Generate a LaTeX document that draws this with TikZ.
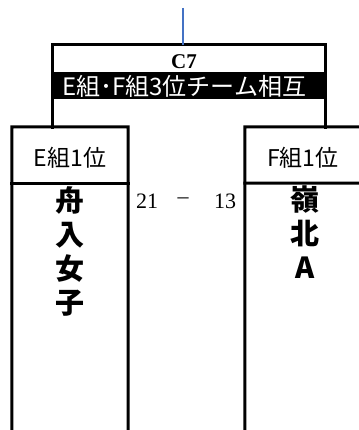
\documentclass[tikz,border=0pt]{standalone}
\usepackage{fontspec}
\setmainfont{Liberation Serif}
\newfontfamily\cjk{Noto Sans CJK JP}
\definecolor{lineblue}{RGB}{68,114,196}
\tikzset{
  frame/.style={line width=3pt, line cap=rect},
  hdr/.style={font=\cjk\fontsize{23}{23}\selectfont, inner sep=0pt, anchor=center},
  team/.style={font=\cjk\bfseries\fontsize{29}{34}\selectfont, align=center, inner sep=0pt, anchor=north},
  score/.style={font=\fontsize{22}{22}\selectfont, inner sep=0pt},
  band/.style={fill=black, minimum width=272pt, minimum height=27pt, inner sep=0pt},
  bandtext/.style={font=\cjk\fontsize{24}{24}\selectfont, text=white, inner sep=0pt},
  feed/.style={draw=lineblue, line width=1.2pt}
}
\begin{document}
\begin{tikzpicture}[x=1pt,y=-1pt]
\useasboundingbox (0,0) rectangle (358,430);
% match bracket
\node[minimum width=272pt, minimum height=82pt, inner sep=0pt] (match) at (189,86) {};
\draw[frame] (match.south west) -- (match.north west) -- (match.north east) -- (match.south east);
\node[band] (band) at (189,85.5) {};
\node[bandtext] (bandtxt) at (184,86) {E組･F組3位チーム相互};
\node[font=\bfseries\fontsize{21}{21}\selectfont, inner sep=0pt] (c7) at (184,62) {C7};
\coordinate (feedtop) at (183,8);
\coordinate (feedbot) at (183,45);
\draw[feed] (feedtop) -- (feedbot);
% left team box
\node[minimum width=116pt, minimum height=56pt, inner sep=0pt] (lhead) at (70,155) {};
\draw[frame] (12,440) -- (lhead.south west) -- (lhead.north west) -- (lhead.north east) -- (lhead.south east) -- (128,440);
\draw[frame] (lhead.south west) -- (lhead.south east);
\node[hdr] (ltitle) at (70,157.5) {E組1位};
\node[team] (lname) at (70,186) {舟\\入\\女\\子};
% right team box
\node[minimum width=116pt, minimum height=56pt, inner sep=0pt] (rhead) at (303,155) {};
\draw[frame] (245,440) -- (rhead.south west) -- (rhead.north west) -- (370,127);
\draw[frame] (rhead.south west) -- (370,183);
\node[hdr] (rtitle) at (303,157.5) {F組1位};
\node[team] (rname) at (305,186) {嶺\\北\\A};
% score
\node[score] (s1) at (147,201) {21};
\node[score] (sd) at (183,201) {\textendash};
\node[score] (s2) at (225,201) {13};
\end{tikzpicture}
\end{document}
